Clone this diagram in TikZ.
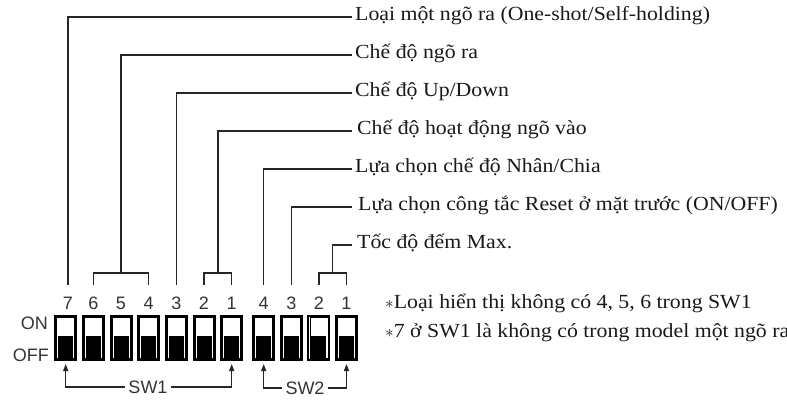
\documentclass[tikz,border=0pt]{standalone}
\usepackage{fontspec}
\setmainfont[FakeStretch=1.09]{Liberation Serif}
\setsansfont{Liberation Sans}
\usetikzlibrary{arrows.meta}
\newcommand{\myast}{{\fontsize{19}{19}\selectfont$\ast$}}
\begin{document}
\begin{tikzpicture}[x=1pt,y=-1pt,
  lbl/.style={font=\fontsize{20}{22}\selectfont, anchor=base west, inner sep=0pt, text=black!90},
  num/.style={font=\sffamily\fontsize{18}{20}\selectfont, inner sep=0pt, text=black!80},
  wire/.style={line width=1.3pt, draw=black!85},
  arr/.style={wire, -{Triangle[length=7pt,width=5pt]}},
  swbox/.style={draw=black, line width=2pt, minimum width=21pt, minimum height=44pt, inner sep=0pt}]
\useasboundingbox (0,0) rectangle (787,399);
\clip (0,0) rectangle (787,399);
\coordinate (legs) at (0,285);
\coordinate (bar) at (0,273);
% switches
\foreach \n/\x in {s7/65.7,s6/93.4,s5/121,s4/148.7,s3/176.4,s2/204,s1/231.7,t4/263.7,t3/291.3,t2/318.9,t1/346.5}{
  \node[swbox] (\n) at (\x,338) {};
  \draw[line width=0.6pt] ([shift={(2.5,2.5)}]\n.north west) rectangle ([shift={(-2.5,-2.5)}]\n.south east);
  \fill ([shift={(4,21)}]\n.north west) rectangle ([shift={(-4,-2.5)}]\n.south east);
}
% digits
\foreach \n/\x/\t in {d7/68/7,d6/93.4/6,d5/121/5,d4/148.7/4,d3/176.4/3,d2/204/2,d1/231.7/1,e4/263.7/4,e3/291.3/3,e2/318.9/2,e1/346.5/1}{
  \node[num] (\n) at (\x,303) {\t};
}
\node[num, anchor=east] (on) at (48,323) {ON};
\node[num, anchor=east] (off) at (49,355) {OFF};
% labels
\node[lbl] (l1) at (355,20.5) {Loại một ngõ ra (One-shot/Self-holding)};
\node[lbl] (l2) at (355,58.5) {Chế độ ngõ ra};
\node[lbl] (l3) at (355,96.5) {Chế độ Up/Down};
\node[lbl] (l4) at (357,134.5) {Chế độ hoạt động ngõ vào};
\node[lbl] (l5) at (355,172.5) {Lựa chọn chế độ Nhân/Chia};
\node[lbl] (l6) at (358,210.5) {Lựa chọn công tắc Reset ở mặt trước (ON/OFF)};
\node[lbl] (l7) at (357,248.5) {Tốc độ đếm Max.};
% connectors
\draw[wire] (l1.base west) ++(-3,-3.5) -| (d7 |- legs);
\draw[wire] (l2.base west) ++(-3,-3.5) -| (d5 |- bar);
\draw[wire] (d6 |- legs) |- (d4 |- bar) -- (d4 |- legs);
\draw[wire] (l3.base west) ++(-3,-3.5) -| (d3 |- legs);
\coordinate (m21) at (218,273);
\draw[wire] (l4.base west) ++(-5,-3.5) -| (m21);
\draw[wire] (d2 |- legs) |- (d1 |- bar) -- (d1 |- legs);
\draw[wire] (l5.base west) ++(-3,-3.5) -| (e4 |- legs);
\draw[wire] (l6.base west) ++(-6,-3.5) -| (e3 |- legs);
\coordinate (n21) at (332.7,273);
\draw[wire] (l7.base west) ++(-5,-3.5) -| (n21);
\draw[wire] (e2 |- legs) |- (e1 |- bar) -- (e1 |- legs);
% bottom SW labels
\node[num] (sw1) at (148,387) {SW1};
\node[num] (sw2) at (305,388) {SW2};
\draw[arr] ([xshift=-3pt]sw1.west) -| ([yshift=-3pt]s7.south);
\draw[arr] ([xshift=3pt]sw1.east) -| ([yshift=-3pt]s1.south);
\draw[arr] ([xshift=-3pt]sw2.west) -| ([yshift=-3pt]t4.south);
\draw[arr] ([xshift=3pt]sw2.east) -| ([yshift=-3pt]t1.south);
% notes
\node[lbl] (n1) at (385,308) {\myast Loại hiển thị không có 4, 5, 6 trong SW1};
\node[lbl] (n2) at (385,337) {\myast 7 ở SW1 là không có trong model một ngõ ra};
\end{tikzpicture}
\end{document}
